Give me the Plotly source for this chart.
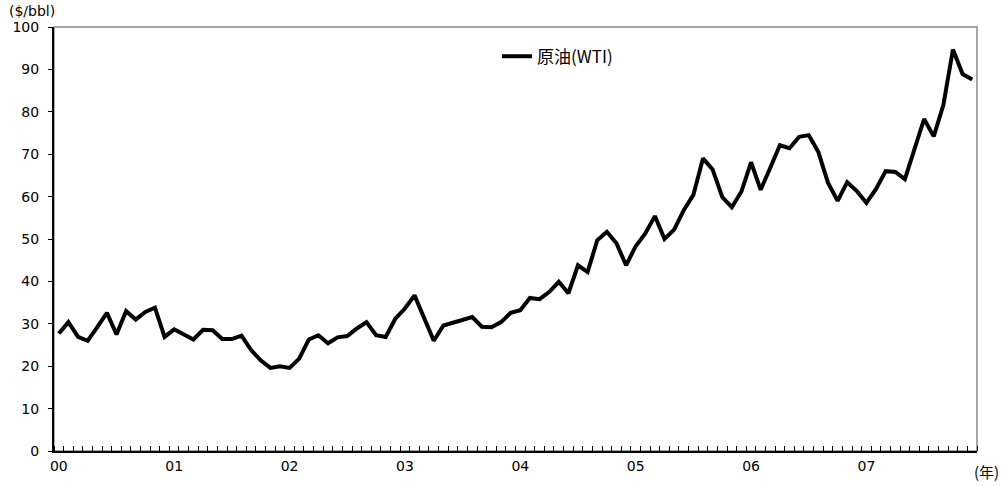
import plotly.graph_objects as go

# Monthly categories, Jan 2000 - Dec 2007
months = [f"{y}-{m:02d}" for y in range(2000, 2008) for m in range(1, 13)]

# WTI crude oil price ($/bbl)
wti = [27.7, 30.4, 26.9, 26.0, 29.2, 32.6, 27.5, 33.0, 31.0, 32.8, 33.8, 26.9,
       28.7, 27.5, 26.3, 28.6, 28.5, 26.4, 26.4, 27.2, 23.8, 21.4, 19.6, 20.0,
       19.6, 21.8, 26.3, 27.3, 25.4, 26.8, 27.1, 28.9, 30.4, 27.3, 26.9, 31.2,
       33.6, 36.7, 31.5, 26.0, 29.6, 30.2, 30.8, 31.6, 29.3, 29.2, 30.4, 32.6,
       33.2, 36.1, 35.8, 37.5, 39.9, 37.2, 43.8, 42.2, 49.7, 51.7, 49.0, 43.8,
       48.3, 51.3, 55.4, 50.0, 52.2, 56.8, 60.4, 69.0, 66.4, 59.9, 57.5, 61.2,
       68.1, 61.6, 66.8, 72.1, 71.4, 74.1, 74.5, 70.5, 63.3, 59.0, 63.4, 61.3,
       58.5, 61.8, 66.0, 65.8, 64.1, 71.2, 78.3, 74.2, 81.6, 94.7, 88.9, 87.6]

year_labels = ["00", "01", "02", "03", "04", "05", "06", "07"]
y_ticks = [0, 10, 20, 30, 40, 50, 60, 70, 80, 90, 100]

x_idx = list(range(len(months)))
year_pos = [months.index(f"20{y}-01") for y in year_labels]

font_main = "DejaVu Sans, Liberation Sans, Arial, sans-serif"
font_cjk = "Noto Sans CJK JP, Noto Sans CJK SC, sans-serif"

fig = go.Figure()
fig.add_trace(go.Scatter(
    x=x_idx, y=wti, mode="lines", name="原油(WTI)",
    line=dict(color="black", width=4),
    text=months, hovertemplate="%{text}: %{y}<extra></extra>",
))

fig.update_layout(
    width=1007, height=486,
    margin=dict(l=53, r=30, t=27, b=33),
    paper_bgcolor="white", plot_bgcolor="white",
    showlegend=True,
    legend=dict(x=0.48, y=0.93, xanchor="left", yanchor="middle",
                bgcolor="rgba(0,0,0,0)",
                font=dict(family=font_cjk, size=17, color="black")),
    font=dict(family=font_main, size=14, color="black"),
)

fig.update_xaxes(
    range=[-0.5, len(months) - 0.5],
    tickmode="array", tickvals=year_pos, ticktext=year_labels,
    ticks="", showgrid=False, zeroline=False,
    showline=True, linecolor="black", linewidth=1.5,
    tickfont=dict(family=font_main, size=14, color="black"),
    ticklabelstandoff=1,
    minor=dict(tickmode="linear", tick0=-0.5, dtick=1, ticks="inside",
               ticklen=5, tickwidth=1, tickcolor="black", showgrid=False),
)
fig.update_yaxes(
    range=[0, 100],
    tickmode="array", tickvals=y_ticks,
    ticks="outside", ticklen=4, tickwidth=1, tickcolor="black",
    showgrid=False, zeroline=False,
    showline=True, linecolor="black", linewidth=2,
    tickfont=dict(family=font_main, size=14, color="black"),
    ticklabelstandoff=6,
)

# gray frame (top and right borders)
fig.add_shape(type="rect", xref="paper", yref="paper", x0=0, y0=0, x1=1, y1=1,
              line=dict(color="#8a8a8a", width=1.5), layer="below")

fig.add_annotation(text="($/bbl)", xref="paper", yref="paper", x=-0.051, y=1.0,
                   xanchor="left", yanchor="bottom", showarrow=False, yshift=6,
                   font=dict(family=font_main, size=14, color="black"))
fig.add_annotation(text="(年)", xref="paper", yref="paper", x=1.0, y=0.0,
                   xanchor="left", yanchor="top", showarrow=False, xshift=-5, yshift=-8,
                   font=dict(family=font_cjk, size=15, color="black"))

fig.write_html("out.html", config={"displayModeBar": False},
               post_script="document.body.style.margin='0';")
